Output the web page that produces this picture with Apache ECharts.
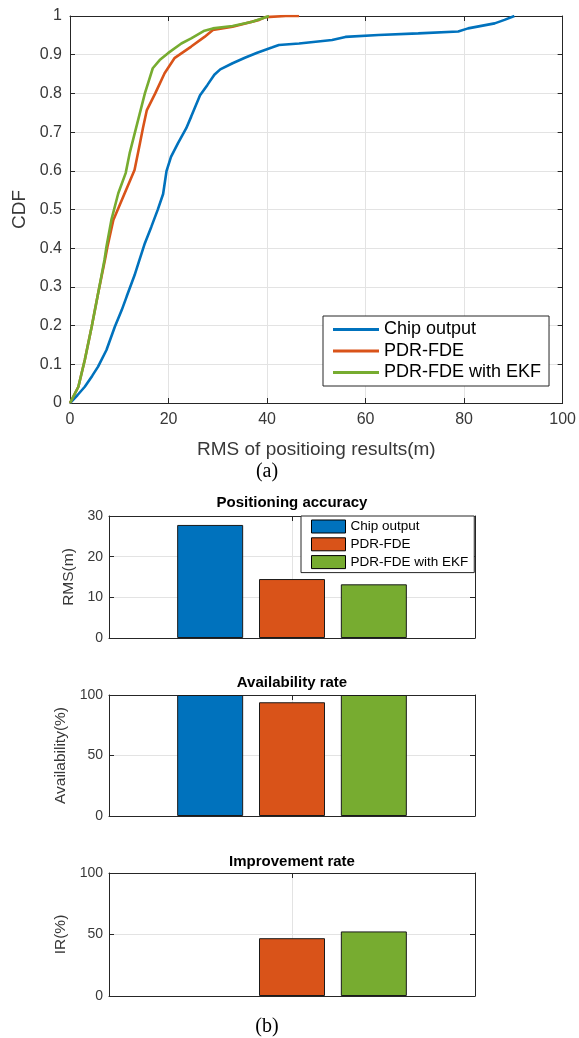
<!DOCTYPE html>
<html><head><meta charset="utf-8">
<script src="https://cdn.jsdelivr.net/npm/echarts/dist/echarts.min.js"></script>
<style>html,body{margin:0;padding:0;background:#fff}#c{width:579px;height:1038px}</style>
</head><body><div id="c"></div>
<script>
// ---------- data ----------
const seriesNames = ['Chip output', 'PDR-FDE', 'PDR-FDE with EKF'];
const seriesColors = ['#0072BD', '#D95319', '#77AC30'];

// CDF curves: [RMS (m), CDF]
const chipCdf = [[0,0],[1.5,0.02],[3.0,0.042],[4.5,0.07],[5.7,0.094],[7.4,0.137],[9.1,0.197],[10.5,0.24],[11.5,0.275],[13.1,0.33],[14.1,0.37],[15.2,0.413],[16.5,0.455],[17.8,0.499],[18.9,0.54],[19.6,0.6],[20.5,0.636],[21.9,0.671],[23.6,0.71],[24.6,0.74],[26.4,0.795],[27.9,0.822],[29.3,0.848],[30.5,0.862],[33.0,0.878],[35.5,0.892],[38.0,0.905],[41.1,0.919],[42.4,0.925],[46.5,0.929],[53.2,0.938],[55.9,0.946],[62.6,0.951],[70.7,0.955],[78.8,0.96],[80.8,0.968],[86.2,0.981],[88.2,0.99],[90.2,1.0]];
const pdrCdf = [[0,0],[1.7,0.042],[3.0,0.111],[4.4,0.197],[5.7,0.283],[7.1,0.37],[7.6,0.404],[8.8,0.473],[10.8,0.533],[13.1,0.602],[14.2,0.671],[14.8,0.71],[15.6,0.757],[17.3,0.80],[19.2,0.852],[21.2,0.891],[24.6,0.921],[27.3,0.946],[29.0,0.964],[33.0,0.972],[38.4,0.99],[39.7,0.997],[43.8,1.0],[46.5,1.0]];
const ekfCdf = [[0,0],[1.7,0.042],[3.0,0.111],[4.4,0.197],[5.7,0.283],[7.0,0.37],[7.4,0.404],[8.4,0.473],[9.8,0.542],[11.3,0.594],[12.1,0.645],[13.3,0.705],[15.2,0.80],[16.8,0.865],[18.2,0.886],[19.9,0.904],[22.6,0.929],[24.6,0.942],[27.3,0.962],[29.0,0.968],[33.0,0.974],[37.0,0.985],[39.7,0.997],[40.4,1.0]];

// bar panels
const barCategories = ['1'];
const rmsValues = [27.8, 14.5, 13.2];
const availabilityValues = [100, 94, 100];
const irValues = [null, 47, 52.5];

const panelTitles = ['Positioning accuracy', 'Availability rate', 'Improvement rate'];
const panelYNames = ['RMS(m)', 'Availability(%)', 'IR(%)'];

// ---------- styling ----------
const FONT = 'Liberation Sans, Arial, sans-serif';
const AX = '#262626';
const LBL = '#383838';
const GRIDC = '#e3e3e3';

const chart = echarts.init(document.getElementById('c'), null, {renderer: 'canvas'});

const panels = [
  {top: 516, height: 122, max: 30, interval: 10, gap: 24, values: rmsValues, titleY: 503},
  {top: 695, height: 121, max: 100, interval: 50, gap: 30, values: availabilityValues, titleY: 683},
  {top: 873, height: 123, max: 100, interval: 50, gap: 31, values: irValues, titleY: 862}
];

const lineAx = {show: true, onZero: false, lineStyle: {color: AX, width: 1}};
const tickIn = {show: true, inside: true, length: 5, lineStyle: {color: AX}};

const grids = [{left: 70, top: 16, width: 494, height: 387}];
const xAxes = [
  {gridIndex: 0, type: 'value', min: 0, max: 100, interval: 20, position: 'bottom',
   axisLine: lineAx, axisTick: tickIn,
   axisLabel: {fontSize: 16, color: LBL, margin: 9, fontFamily: FONT},
   splitLine: {show: true, showMinLine: false, showMaxLine: false, lineStyle: {color: GRIDC, width: 1}},
   name: 'RMS of positioing results(m)', nameLocation: 'middle', nameGap: 37,
   nameTextStyle: {fontSize: 19, color: LBL, fontFamily: FONT}},
  {gridIndex: 0, type: 'value', min: 0, max: 100, interval: 20, position: 'top',
   axisLine: lineAx, axisTick: tickIn,
   axisLabel: {show: false}, splitLine: {show: false}}
];
const yAxes = [
  {gridIndex: 0, type: 'value', min: 0, max: 1, interval: 0.1, position: 'left',
   axisLine: lineAx, axisTick: tickIn,
   axisLabel: {fontSize: 16, color: LBL, margin: 8, fontFamily: FONT},
   splitLine: {show: true, showMinLine: false, showMaxLine: false, lineStyle: {color: GRIDC, width: 1}},
   name: 'CDF', nameLocation: 'middle', nameGap: 38,
   nameTextStyle: {fontSize: 19, color: LBL, fontFamily: FONT}},
  {gridIndex: 0, type: 'value', min: 0, max: 1, interval: 0.1, position: 'right',
   axisLine: lineAx, axisTick: tickIn,
   axisLabel: {show: false}, splitLine: {show: false}}
];

const series = [chipCdf, pdrCdf, ekfCdf].map((d, i) => ({
  name: seriesNames[i], type: 'line', xAxisIndex: 0, yAxisIndex: 0,
  data: d, symbol: 'none', showSymbol: false, smooth: false,
  lineStyle: {color: seriesColors[i], width: 2.6},
  itemStyle: {color: seriesColors[i]}, z: 3 + i
}));

const graphics = [
  {type: 'text', x: 267, y: 472, style: {text: '(a)', fontSize: 20, fontFamily: 'Liberation Serif, Times New Roman, serif', fill: '#000', align: 'center', verticalAlign: 'middle'}},
  {type: 'text', x: 267, y: 1027, style: {text: '(b)', fontSize: 20, fontFamily: 'Liberation Serif, Times New Roman, serif', fill: '#000', align: 'center', verticalAlign: 'middle'}}
];

panels.forEach((p, k) => {
  const g = k + 1;
  grids.push({left: 109, top: p.top, width: 366, height: p.height});
  xAxes.push({gridIndex: g, type: 'category', data: barCategories, position: 'bottom',
    axisLine: lineAx,
    axisTick: {show: true, inside: true, alignWithLabel: true, length: 5, lineStyle: {color: AX}},
    axisLabel: {show: false}, splitLine: {show: false}});
  xAxes.push({gridIndex: g, type: 'value', min: 0, max: 2, interval: 1, position: 'top',
    axisLine: lineAx, axisTick: tickIn,
    axisLabel: {show: false},
    splitLine: {show: true, showMinLine: false, showMaxLine: false, lineStyle: {color: GRIDC, width: 1}}});
  yAxes.push({gridIndex: g, type: 'value', min: 0, max: p.max, interval: p.interval, position: 'left',
    axisLine: lineAx, axisTick: tickIn,
    axisLabel: {fontSize: 14, color: LBL, margin: 6, fontFamily: FONT},
    splitLine: {show: true, showMinLine: false, showMaxLine: false, lineStyle: {color: GRIDC, width: 1}},
    name: panelYNames[k], nameLocation: 'middle', nameGap: p.gap,
    nameTextStyle: {fontSize: 15.5, color: LBL, fontFamily: FONT}});
  yAxes.push({gridIndex: g, type: 'value', min: 0, max: p.max, interval: p.interval, position: 'right',
    axisLine: lineAx, axisTick: tickIn,
    axisLabel: {show: false}, splitLine: {show: false}});
  p.values.forEach((v, i) => {
    series.push({
      name: seriesNames[i], type: 'bar', xAxisIndex: 2 * g, yAxisIndex: 2 * g,
      data: [v === null ? '-' : v], barWidth: 66, barGap: '24%',
      itemStyle: {color: seriesColors[i], borderColor: '#1a1a1a', borderWidth: 1},
      z: 3
    });
  });
  graphics.push({type: 'text', x: 292, y: p.titleY, style: {text: panelTitles[k], fontSize: 15, fontWeight: 'bold', fontFamily: FONT, fill: '#000', align: 'center', verticalAlign: 'middle'}});
});

chart.setOption({
  animation: false,
  backgroundColor: '#fff',
  textStyle: {fontFamily: FONT},
  grid: grids,
  xAxis: xAxes,
  yAxis: yAxes,
  legend: [
    {left: 323, top: 316, orient: 'vertical', icon: 'rect', itemWidth: 46, itemHeight: 3, itemGap: 1.5,
     padding: [3.5, 8, 3.5, 10], selectedMode: false, data: seriesNames,
     textStyle: {fontSize: 18, lineHeight: 20, color: '#000', fontFamily: FONT},
     itemStyle: {borderWidth: 0},
     backgroundColor: '#fff', borderColor: AX, borderWidth: 1, z: 10},
    {left: 301, top: 516, orient: 'vertical', icon: 'rect', itemWidth: 34, itemHeight: 13, itemGap: 2.8,
     padding: [3, 6, 3, 10], selectedMode: false, data: seriesNames,
     textStyle: {fontSize: 13.5, lineHeight: 15, color: '#000', fontFamily: FONT},
     itemStyle: {borderColor: '#000', borderWidth: 1},
     backgroundColor: '#fff', borderColor: AX, borderWidth: 1, z: 10}
  ],
  graphic: graphics,
  series: series
});
</script></body></html>
